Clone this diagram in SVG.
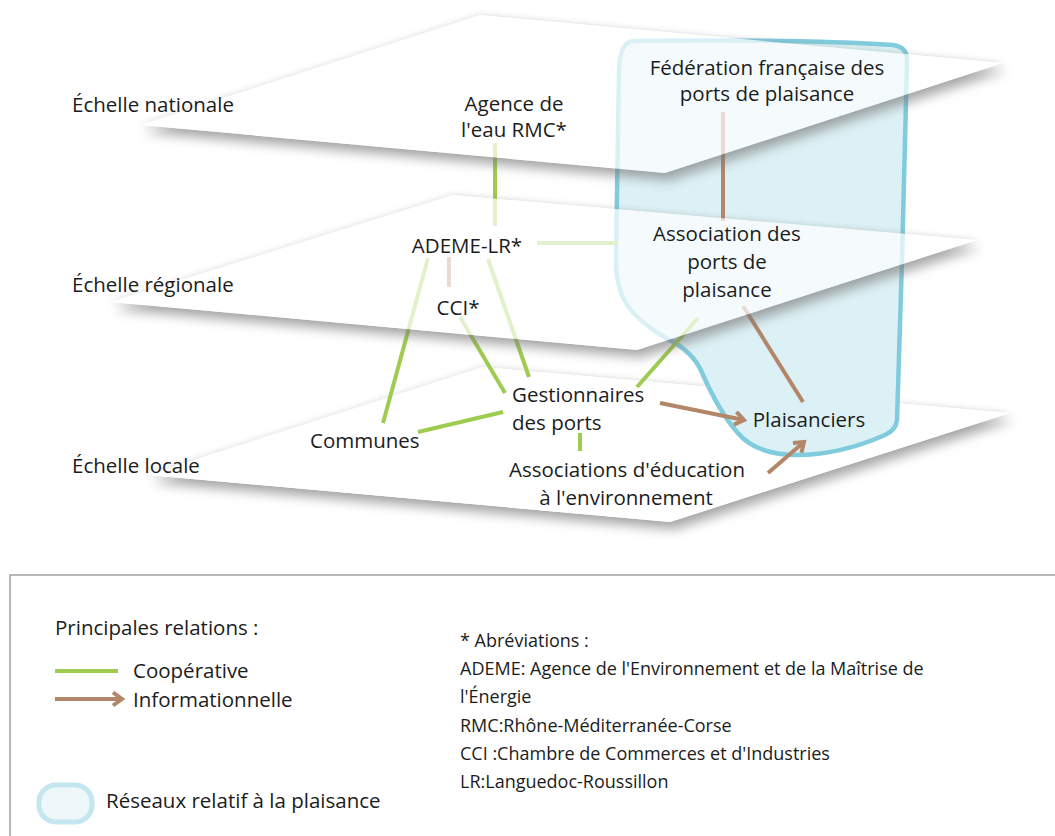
<svg xmlns="http://www.w3.org/2000/svg" width="1055" height="836" viewBox="0 0 1055 836">
<style>
text{font-family:"Open Sans","Noto Sans","DejaVu Sans",sans-serif;fill:#1c1c1c;font-size:20.5px}
.m{text-anchor:middle}
.abr{font-size:18px}
.plane{fill:#ffffff}
.planeT{fill:#ffffff;fill-opacity:0.7}
.shadow{fill:#7a7a7a;opacity:0.6}
.halo{fill:#8a8a8a;opacity:0.3}
.coop{stroke:#9dcc50;stroke-width:4;fill:none}
.info{stroke:#b3866a;stroke-width:4;fill:none}
.arr{marker-end:url(#ah)}
</style>
<defs>
<filter id="blur" x="-20%" y="-50%" width="140%" height="200%"><feGaussianBlur stdDeviation="5.5"/></filter>
<filter id="blur2" x="-20%" y="-50%" width="140%" height="200%"><feGaussianBlur stdDeviation="3"/></filter>
<marker id="ah" markerUnits="userSpaceOnUse" markerWidth="18" markerHeight="18" refX="12" refY="8" orient="auto" viewBox="0 0 18 18">
<path d="M3,1.5 L12,8 L3,14.5" fill="none" stroke="#b3866a" stroke-width="4" stroke-linejoin="miter"/>
</marker>
<mask id="mkN" maskUnits="userSpaceOnUse" x="0" y="0" width="1055" height="836"><rect width="1055" height="836" fill="#fff"/><polygon points="140,125 480,15 1003,63 665,173" fill="#000"/></mask>
<mask id="mkR" maskUnits="userSpaceOnUse" x="0" y="0" width="1055" height="836"><rect width="1055" height="836" fill="#fff"/><polygon points="110,302 453,195 977,240 637,350" fill="#000"/></mask>
<mask id="mkL" maskUnits="userSpaceOnUse" x="0" y="0" width="1055" height="836"><rect width="1055" height="836" fill="#fff"/><polygon points="147,475 483,367 1010,413 670,522" fill="#000"/></mask>
</defs>
<rect width="1055" height="836" fill="#ffffff"/>

<g id="plane-locale">
<g mask="url(#mkL)"><polygon class="halo" points="147,475 483,367 1010,413 670,522" filter="url(#blur2)"/><polygon class="shadow" points="147,475 483,367 1010,413 670,522" transform="translate(4,8)" filter="url(#blur)"/></g>
<polygon class="plane" points="147,475 483,367 1010,413 670,522"/>
</g>

<g id="reseau-plaisance">
<path d="M633,41 C700,40 820,40 893,45 Q908,47 907,62 L902,260 L897,420 Q896,430 885,435 C860,446 830,455 797,455 C770,455 750,448 737,432 C722,415 712,395 703,375 C698,362 690,352 675,343 C650,330 630,315 622,295 C616,280 616,270 616,255 L619,70 Q620,42 633,41 Z" fill="#dcf1f5" stroke="#80cbdd" stroke-width="4.5"/>
</g>

<g id="connectors">
<line class="coop" x1="495" y1="143" x2="495" y2="226"/>
<line class="coop" x1="537" y1="243" x2="617" y2="243"/>
<line class="coop" x1="428" y1="258" x2="383" y2="423"/>
<line class="info" x1="449" y1="257" x2="449" y2="287"/>
<line class="coop" x1="488" y1="259" x2="529" y2="377"/>
<line class="coop" x1="460" y1="317" x2="505" y2="393"/>
<line class="coop" x1="418" y1="432" x2="503" y2="412"/>
<line class="coop" x1="580" y1="433" x2="580" y2="451"/>
<line class="coop" x1="637" y1="387" x2="698" y2="318"/>
<line class="info" x1="723" y1="112" x2="723" y2="221"/>
<line class="info" x1="743" y1="306" x2="803" y2="402"/>
<line class="info arr" x1="660" y1="403" x2="744" y2="420"/>
<line class="info arr" x1="768" y1="473" x2="804" y2="442"/>
</g>

<g id="plane-regionale">
<g mask="url(#mkR)"><polygon class="halo" points="110,302 453,195 977,240 637,350" filter="url(#blur2)"/><polygon class="shadow" points="110,302 453,195 977,240 637,350" transform="translate(4,8)" filter="url(#blur)"/></g>
<polygon class="planeT" points="110,302 453,195 977,240 637,350"/>
</g>
<g id="plane-nationale">
<g mask="url(#mkN)"><polygon class="halo" points="140,125 480,15 1003,63 665,173" filter="url(#blur2)"/><polygon class="shadow" points="140,125 480,15 1003,63 665,173" transform="translate(4,8)" filter="url(#blur)"/></g>
<polygon class="planeT" points="140,125 480,15 1003,63 665,173"/>
</g>

<g id="echelles">
<text x="72" y="112">Échelle nationale</text>
<text x="72" y="292">Échelle régionale</text>
<text x="72" y="473">Échelle locale</text>
</g>

<g id="agence-eau"><text class="m" x="514" y="111">Agence de</text><text class="m" x="514" y="137">l'eau RMC*</text></g>
<g id="federation"><text class="m" x="767" y="75">Fédération française des</text><text class="m" x="767" y="101">ports de plaisance</text></g>
<g id="ademe"><text class="m" x="467" y="253">ADEME-LR*</text></g>
<g id="association-ports"><text class="m" x="727" y="241">Association des</text><text class="m" x="727" y="269">ports de</text><text class="m" x="727" y="297">plaisance</text></g>
<g id="cci"><text class="m" x="458" y="315">CCI*</text></g>
<g id="gestionnaires"><text x="512" y="402">Gestionnaires</text><text x="512" y="430">des ports</text></g>
<g id="communes"><text x="310" y="448">Communes</text></g>
<g id="associations-education"><text class="m" x="627" y="477">Associations d'éducation</text><text class="m" x="626" y="505">à l'environnement</text></g>
<g id="plaisanciers"><text class="m" x="809" y="427">Plaisanciers</text></g>

<g id="legende">
<rect x="10" y="575" width="1060" height="280" fill="#fff" stroke="#a0a0a0" stroke-width="1.5"/>
<text x="55" y="635">Principales relations :</text>
<line class="coop" x1="55" y1="671" x2="118" y2="671"/>
<text x="133" y="678">Coopérative</text>
<line class="info arr" x1="55" y1="699" x2="122" y2="699"/>
<text x="133" y="707">Informationnelle</text>
<rect x="39" y="785" width="53" height="37" rx="17" fill="#eef7fa" stroke="#c3e6ef" stroke-width="5"/>
<text x="106" y="808">Réseaux relatif à la plaisance</text>
<text class="abr" x="460" y="647">* Abréviations :</text>
<text class="abr" x="460" y="675">ADEME: Agence de l'Environnement et de la Maîtrise de</text>
<text class="abr" x="460" y="703">l'Énergie</text>
<text class="abr" x="460" y="732">RMC:Rhône-Méditerranée-Corse</text>
<text class="abr" x="460" y="760">CCI :Chambre de Commerces et d'Industries</text>
<text class="abr" x="460" y="788">LR:Languedoc-Roussillon</text>
</g>
</svg>
